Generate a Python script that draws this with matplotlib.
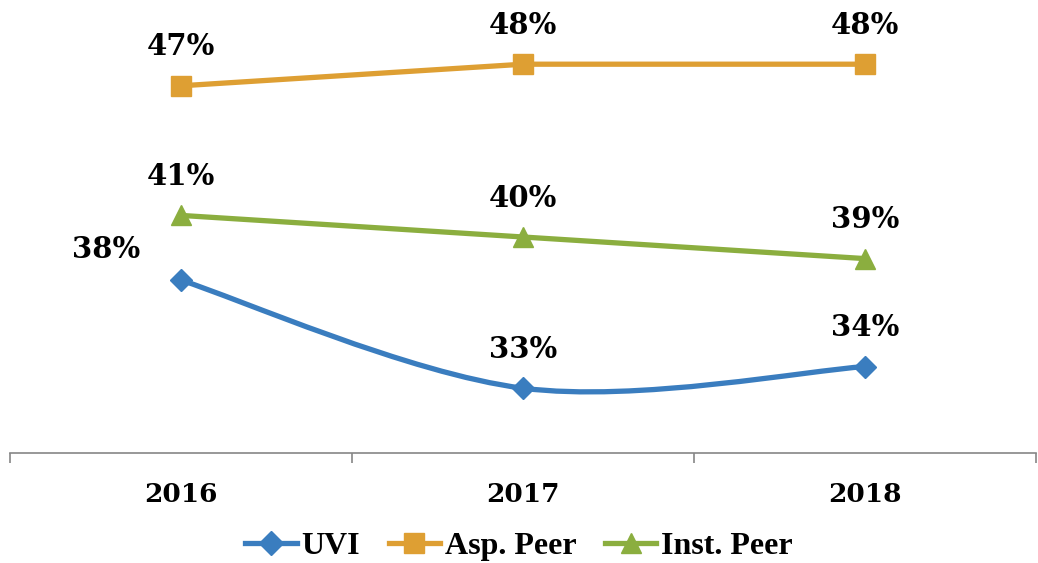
import numpy as np
import matplotlib.pyplot as plt
from matplotlib.path import Path
from matplotlib.patches import PathPatch
from matplotlib.lines import Line2D

# Data
years = ['2016', '2017', '2018']
uvi = [38, 33, 34]
asp_peer = [47, 48, 48]
inst_peer = [41, 40, 39]

blue = '#3A7DBF'
orange = '#DE9F33'
green = '#8BAE3F'

fig = plt.figure(figsize=(10.38, 5.63), dpi=100)
ax = fig.add_axes([10/1038, 110/563, 1026/1038, 432/563])
x = np.arange(len(years))

# Smoothed UVI line (Catmull-Rom style bezier like Excel smoothing)
pts = list(zip(x, uvi))
verts = [pts[0]]
codes = [Path.MOVETO]
for i in range(len(pts) - 1):
    p0 = np.array(pts[max(i - 1, 0)], float)
    p1 = np.array(pts[i], float)
    p2 = np.array(pts[i + 1], float)
    p3 = np.array(pts[min(i + 2, len(pts) - 1)], float)
    c1 = p1 + (p2 - p0) / 6
    c2 = p2 - (p3 - p1) / 6
    verts += [tuple(c1), tuple(c2), tuple(p2)]
    codes += [Path.CURVE4] * 3
ax.add_patch(PathPatch(Path(verts, codes), facecolor='none', edgecolor=blue,
                       lw=3.8, capstyle='round', zorder=2))
ax.plot(x, uvi, ls='none', marker='D', ms=11, color=blue, zorder=3)

ax.plot(x, asp_peer, color=orange, lw=3.8, marker='s', ms=14, zorder=3)
ax.plot(x, inst_peer, color=green, lw=3.8, marker='^', ms=14, zorder=3)

ax.set_xlim(-0.5, 2.5)
ax.set_ylim(30, 50)

lab_font = dict(family='DejaVu Serif', weight='bold', size=21, ha='center', va='center')
for xi, v in zip(x, asp_peer):
    ax.annotate(f'{v}%', (xi, v), xytext=(0, 28), textcoords='offset points', **lab_font)
for xi, v in zip(x, inst_peer):
    ax.annotate(f'{v}%', (xi, v), xytext=(0, 28), textcoords='offset points', **lab_font)
for i, (xi, v) in enumerate(zip(x, uvi)):
    off = (-54, 22) if i == 0 else (0, 28)
    ax.annotate(f'{v}%', (xi, v), xytext=off, textcoords='offset points', **lab_font)

# Axis styling
for s in ['left', 'right', 'top']:
    ax.spines[s].set_visible(False)
ax.spines['bottom'].set_color('#868686')
ax.spines['bottom'].set_linewidth(1.2)
ax.set_yticks([])
ax.set_xticks([-0.5, 0.5, 1.5, 2.5])
ax.set_xticklabels([])
ax.tick_params(axis='x', direction='out', length=7.5, width=1.2, color='#868686')
ax.set_xticks(x, minor=True)
ax.set_xticklabels(years, minor=True, fontfamily='DejaVu Serif', fontweight='bold', fontsize=19)
ax.tick_params(axis='x', which='minor', length=0, pad=21)

handles = [
    Line2D([], [], color=blue, lw=3.8, marker='D', ms=12),
    Line2D([], [], color=orange, lw=3.8, marker='s', ms=14),
    Line2D([], [], color=green, lw=3.8, marker='^', ms=14),
]
fig.legend(handles, ['UVI', 'Asp. Peer', 'Inst. Peer'], loc='center',
           bbox_to_anchor=(0.5, 1 - 546/563), ncol=3, frameon=False,
           prop=dict(family='Liberation Serif', weight='bold', size=23),
           handlelength=1.6, handletextpad=0.15, columnspacing=0.9)

fig.savefig('out.png', dpi=100)
